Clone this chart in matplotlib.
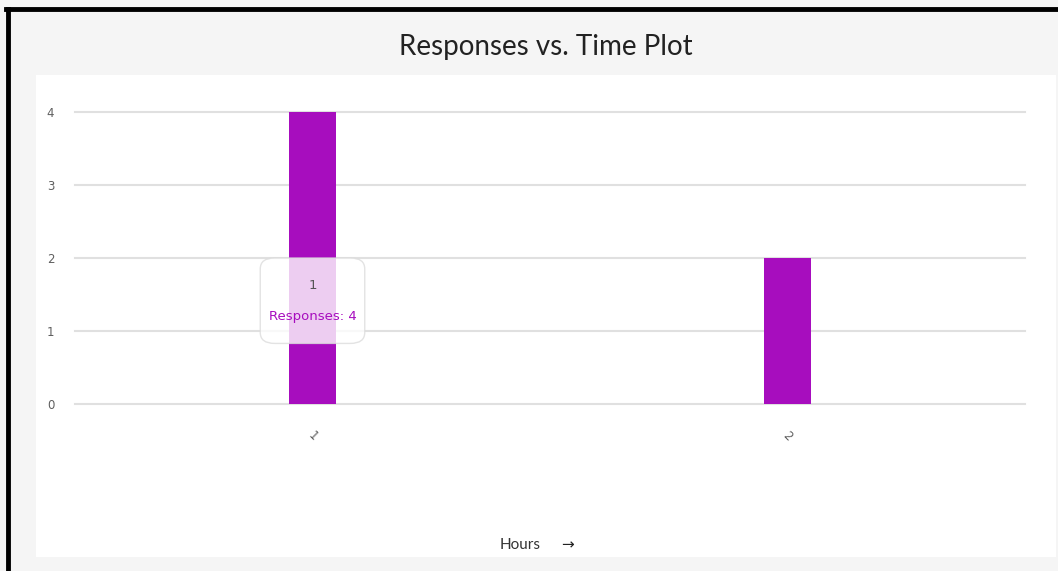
import matplotlib.pyplot as plt
from matplotlib.patches import FancyBboxPatch, Rectangle
from matplotlib.lines import Line2D

# 数据
hours = ['1', '2']
responses = [4, 2]
yticks = [0, 1, 2, 3, 4]

bar_color = '#a70dbe'
tick_color = '#5f5f5f'

fig = plt.figure(figsize=(10.58, 5.71), dpi=100)
fig.patch.set_facecolor('#f5f5f5')

W, H = 1058, 571
# 白色面板
fig.add_artist(Rectangle((36 / W, 1 - 557 / H), (1056 - 36) / W, (557 - 75) / H,
                         transform=fig.transFigure, facecolor='white',
                         edgecolor='none', zorder=-5))
# 黑色边框 (上, 左)
fig.add_artist(Line2D([6 / W, 1], [1 - 9 / H, 1 - 9 / H], color='black', lw=3.5))
fig.add_artist(Line2D([8 / W, 8 / W], [0, 1 - 9 / H], color='black', lw=3.5))

ax = fig.add_axes([75 / W, 1 - 404 / H, (1025 - 75) / W, (404 - 112) / H])
ax.set_facecolor('none')
ax.set_zorder(2)
x = range(len(hours))
ax.bar(x, responses, width=0.1, color=bar_color, zorder=2)
ax.set_xlim(-0.5, len(hours) - 0.5)
ax.set_ylim(0, 4)
ax.set_yticks(yticks)
ax.yaxis.grid(True, color='#e0e0e0', lw=1.5, zorder=0)
for gl in ax.get_ygridlines():
    gl.set_clip_on(False)
ax.set_axisbelow(True)
for s in ax.spines.values():
    s.set_visible(False)
ax.tick_params(axis='both', length=0, colors=tick_color, labelsize=8.5)
ax.tick_params(axis='y', pad=15)
ax.tick_params(axis='x', pad=18)
ax.set_xticks(list(x))
ax.set_xticklabels(hours, rotation=-45, family='DejaVu Sans')

# 标题
fig.text(546 / W, 1 - 47 / H, 'Responses vs. Time Plot', ha='center', va='center',
         fontsize=20, color='#222222', family='Lato')
fig.text(520 / W, 1 - 545 / H, 'Hours', ha='center', va='center',
         fontsize=11, color='#333333', family='Lato')
fig.text(568 / W, 1 - 545 / H, '→', ha='center', va='center',
         fontsize=11, color='#222222', family='DejaVu Sans')

# 提示框
tip = FancyBboxPatch((-0.11, 0.83), 0.22, 1.17,
                     boxstyle='round,pad=0,rounding_size=0.03',
                     mutation_aspect=5,
                     facecolor='white', alpha=0.8, edgecolor='#dcdcdc', lw=1, zorder=3)
ax.add_patch(tip)
ax.text(0, 1.63, hours[0], ha='center', va='center', fontsize=9.5, color='#555555', zorder=4)
ax.text(0, 1.205, 'Responses: %d' % responses[0], ha='center', va='center',
        fontsize=9.5, color=bar_color, zorder=4)

plt.savefig('out.png', dpi=100, facecolor=fig.get_facecolor())
